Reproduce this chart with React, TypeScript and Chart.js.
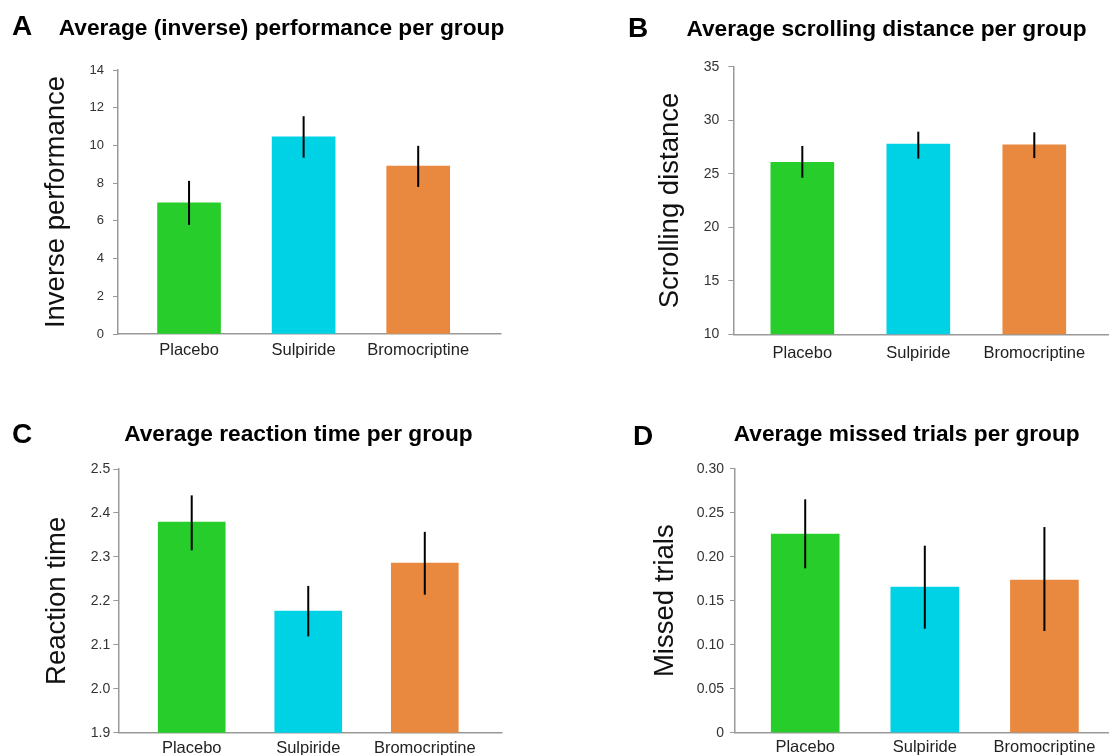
import React, { useEffect, useRef } from 'react';
import { Chart, registerables } from 'chart.js';

Chart.register(...registerables);

const FONT = '"Liberation Sans", Arial, Helvetica, sans-serif';

// ---------- data ----------
const categories = ['Placebo', 'Sulpiride', 'Bromocriptine'];
const barColors = ['#27CE2B', '#00D2E6', '#E9893F'];

const perfMean = [6.95, 10.45, 8.9];
const perfLow = [5.78, 9.35, 7.8];
const perfHigh = [8.12, 11.55, 9.98];
const perfTicks = [0, 2, 4, 6, 8, 10, 12, 14];

const scrollMean = [26.07, 27.78, 27.69];
const scrollLow = [24.63, 26.41, 26.46];
const scrollHigh = [27.6, 28.93, 28.87];
const scrollTicks = [10, 15, 20, 25, 30, 35];

const rtMean = [2.379, 2.177, 2.286];
const rtLow = [2.315, 2.119, 2.214];
const rtHigh = [2.44, 2.234, 2.357];
const rtTicks = [1.9, 2.0, 2.1, 2.2, 2.3, 2.4, 2.5];

const missMean = [0.2258, 0.1656, 0.1735];
const missLow = [0.1868, 0.1182, 0.1156];
const missHigh = [0.2652, 0.2125, 0.2337];
const missTicks = [0, 0.05, 0.1, 0.15, 0.2, 0.25, 0.3];

// ---------- panel layout ----------
type Panel = {
  letter: string;
  title: string;
  yTitle: string;
  mean: number[];
  low: number[];
  high: number[];
  ticks: number[];
  fmt: (v: number) => string;
  box: { left: number; top: number; width: number; height: number };
  area: { left: number; top: number; right: number; bottom: number };
  xHeight: number;
  xMin: number;
  xMax: number;
  barWidth: number;
  tickFont: number;
  tickPad: number;
  xPad: number;
  yTitleOffset: number;
  letterPos: { x: number; y: number };
  titlePos: { x: number; y: number };
};

const panels: Panel[] = [
  {
    letter: 'A',
    title: 'Average (inverse) performance per group',
    yTitle: 'Inverse performance',
    mean: perfMean,
    low: perfLow,
    high: perfHigh,
    ticks: perfTicks,
    fmt: (v) => String(v),
    box: { left: 0, top: 0, width: 555, height: 375 },
    area: { left: 118, top: 70, right: 500.7, bottom: 334 },
    xHeight: 35,
    xMin: -0.62,
    xMax: 2.72,
    barWidth: 63,
    tickFont: 13,
    tickPad: 9,
    xPad: 2,
    yTitleOffset: 43,
    letterPos: { x: 12, y: 35 },
    titlePos: { x: 281.5, y: 35 },
  },
  {
    letter: 'B',
    title: 'Average scrolling distance per group',
    yTitle: 'Scrolling distance',
    mean: scrollMean,
    low: scrollLow,
    high: scrollHigh,
    ticks: scrollTicks,
    fmt: (v) => String(v),
    box: { left: 555, top: 0, width: 554, height: 375 },
    area: { left: 178.3, top: 66.7, right: 554, bottom: 334.3 },
    xHeight: 35,
    xMin: -0.595,
    xMax: 2.644,
    barWidth: 63,
    tickFont: 14,
    tickPad: 9,
    xPad: 4,
    yTitleOffset: 101.7,
    letterPos: { x: 73, y: 37 },
    titlePos: { x: 331.5, y: 35.5 },
  },
  {
    letter: 'C',
    title: 'Average reaction time per group',
    yTitle: 'Reaction time',
    mean: rtMean,
    low: rtLow,
    high: rtHigh,
    ticks: rtTicks,
    fmt: (v) => v.toFixed(1),
    box: { left: 0, top: 375, width: 555, height: 380 },
    area: { left: 118.3, top: 94, right: 501.7, bottom: 357.7 },
    xHeight: 22.3,
    xMin: -0.63,
    xMax: 2.66,
    barWidth: 67,
    tickFont: 14,
    tickPad: 3,
    xPad: 1,
    yTitleOffset: 43.7,
    letterPos: { x: 12, y: 67.7 },
    titlePos: { x: 298.4, y: 65.7 },
  },
  {
    letter: 'D',
    title: 'Average missed trials per group',
    yTitle: 'Missed trials',
    mean: missMean,
    low: missLow,
    high: missHigh,
    ticks: missTicks,
    fmt: (v) => (v === 0 ? '0' : v.toFixed(2)),
    box: { left: 555, top: 375, width: 554, height: 380 },
    area: { left: 180, top: 93.7, right: 554, bottom: 357.7 },
    xHeight: 22.3,
    xMin: -0.587,
    xMax: 2.54,
    barWidth: 68,
    tickFont: 14,
    tickPad: 6,
    xPad: 0,
    yTitleOffset: 96.7,
    letterPos: { x: 78, y: 70 },
    titlePos: { x: 351.7, y: 65.7 },
  },
];

const AXIS_COLOR = '#999999';

function PanelChart({ p }: { p: Panel }) {
  const ref = useRef<HTMLCanvasElement | null>(null);

  useEffect(() => {
    const canvas = ref.current;
    if (!canvas) return;

    const errorBars = {
      id: 'errorBars',
      afterDatasetsDraw(chart: any) {
        const { ctx } = chart;
        const xs = chart.scales.x;
        const ys = chart.scales.y;
        ctx.save();
        ctx.strokeStyle = '#000000';
        ctx.lineWidth = 2;
        p.low.forEach((lo, i) => {
          const px = xs.getPixelForValue(i);
          ctx.beginPath();
          ctx.moveTo(px, ys.getPixelForValue(lo));
          ctx.lineTo(px, ys.getPixelForValue(p.high[i]));
          ctx.stroke();
        });
        ctx.restore();
      },
    };

    const header = {
      id: 'header',
      afterDraw(chart: any) {
        const { ctx } = chart;
        ctx.save();
        ctx.fillStyle = '#000000';
        ctx.textBaseline = 'alphabetic';
        ctx.textAlign = 'left';
        ctx.font = `bold 28px ${FONT}`;
        ctx.fillText(p.letter, p.letterPos.x, p.letterPos.y);
        ctx.textAlign = 'center';
        ctx.font = `bold 22.7px ${FONT}`;
        ctx.fillText(p.title, p.titlePos.x, p.titlePos.y);
        ctx.restore();
      },
    };

    const chart = new Chart(canvas, {
      type: 'bar',
      data: {
        datasets: [
          {
            data: p.mean.map((v, i) => ({ x: i, y: v })),
            backgroundColor: barColors,
            borderWidth: 0,
            barThickness: p.barWidth,
          } as any,
        ],
      },
      options: {
        animation: false,
        responsive: false,
        devicePixelRatio: 1,
        layout: {
          autoPadding: false,
          padding: {
            left: 0,
            top: p.area.top,
            right: p.box.width - p.area.right,
            bottom: p.box.height - p.area.bottom - p.xHeight,
          },
        },
        plugins: {
          legend: { display: false },
          title: { display: false },
          tooltip: { enabled: false },
        },
        scales: {
          x: {
            type: 'linear',
            min: p.xMin,
            max: p.xMax,
            offset: false,
            afterFit: (s: any) => {
              s.height = p.xHeight;
            },
            afterBuildTicks: (s: any) => {
              s.ticks = [s.min, 0, 1, 2].map((v) => ({ value: v }));
            },
            grid: {
              drawOnChartArea: false,
              drawTicks: true,
              tickLength: 5,
              lineWidth: 1.5,
              color: (c: any) => (c.index === 0 ? AXIS_COLOR : 'rgba(0,0,0,0)'),
            },
            border: { display: true, color: AXIS_COLOR, width: 1.5 },
            ticks: {
              autoSkip: false,
              maxRotation: 0,
              minRotation: 0,
              padding: p.xPad,
              color: '#222222',
              font: { family: FONT, size: 16.5 },
              callback: (v: any) => (Number.isInteger(v) ? categories[v] : ''),
            },
          },
          y: {
            type: 'linear',
            min: p.ticks[0],
            max: p.ticks[p.ticks.length - 1],
            afterFit: (s: any) => {
              s.width = p.area.left;
            },
            afterBuildTicks: (s: any) => {
              s.ticks = p.ticks.map((v) => ({ value: v }));
            },
            grid: {
              drawOnChartArea: false,
              drawTicks: true,
              tickLength: 5,
              lineWidth: 1,
              color: AXIS_COLOR,
            },
            border: { display: true, color: AXIS_COLOR, width: 1.5 },
            ticks: {
              padding: p.tickPad,
              color: '#333333',
              font: { family: FONT, size: p.tickFont },
              callback: (v: any) => p.fmt(Number(v)),
            },
            title: {
              display: true,
              text: p.yTitle,
              color: '#111111',
              font: { family: FONT, size: 27.5, lineHeight: 1 },
              padding: { top: p.yTitleOffset, bottom: 0 },
            },
          },
        },
      } as any,
      plugins: [errorBars, header],
    });

    return () => chart.destroy();
  }, [p]);

  return (
    <canvas
      ref={ref}
      width={p.box.width}
      height={p.box.height}
      style={{
        position: 'absolute',
        left: p.box.left,
        top: p.box.top,
        width: p.box.width,
        height: p.box.height,
        display: 'block',
      }}
    />
  );
}

export default function App() {
  return (
    <div
      style={{
        position: 'absolute',
        left: 0,
        top: 0,
        width: 1109,
        height: 755,
        overflow: 'hidden',
        background: '#ffffff',
      }}
    >
      {panels.map((p) => (
        <PanelChart key={p.letter} p={p} />
      ))}
    </div>
  );
}
